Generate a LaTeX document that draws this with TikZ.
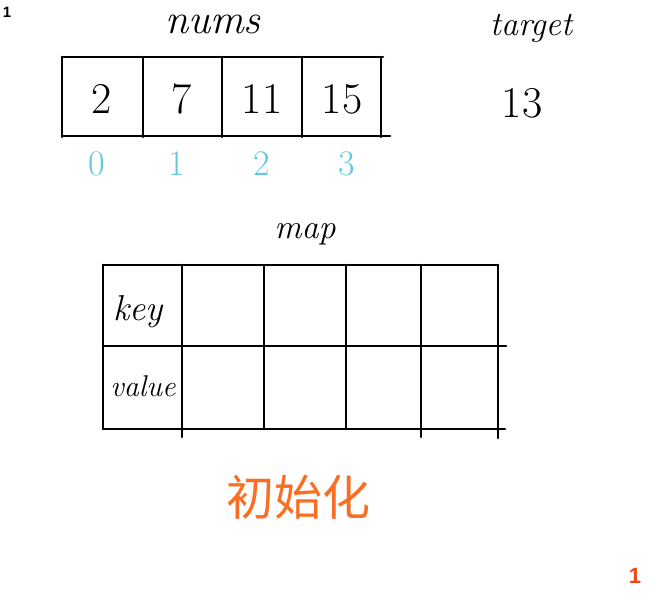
\documentclass[tikz,border=0pt]{standalone}
\usepackage{fontspec}
\newfontfamily\cjk{Noto Sans CJK SC}
\newfontfamily\sansb{Liberation Sans}
\definecolor{idxblue}{RGB}{95,200,225}
\definecolor{initorange}{RGB}{250,110,35}
\definecolor{pagered}{RGB}{240,70,20}
\tikzset{
  grid/.style={line width=2.6pt, black, line cap=round},
  word/.style={inner sep=0pt, font=\fontsize{34}{34}\selectfont\itshape},
  digit/.style={inner sep=0pt, font=\fontsize{44}{44}\selectfont},
  idx/.style={inner sep=0pt, text=idxblue, font=\fontsize{36}{36}\selectfont},
}
\begin{document}
\begin{tikzpicture}[x=1pt,y=-1pt]
\useasboundingbox (0,0) rectangle (650,600);
% top-left page mark
\node[inner sep=0pt, font=\sansb\bfseries\fontsize{15}{15}\selectfont] (pg) at (7,12) {1};
% nums array
\node[word, font=\fontsize{42}{42}\selectfont\itshape] (nums) at (213,24) {nums};
\draw[grid] (62,57) -- (383,57);
\draw[grid] (62,136) -- (390,136);
\foreach \x in {62,143,222,302,381} \draw[grid] (\x,57) -- (\x,137);
\node[digit] (v0) at (102,99) {2};
\node[digit] (v1) at (182,99) {7};
\node[digit] (v2) at (262,99) {11};
\node[digit] (v3) at (342,99) {15};
\node[idx] (i0) at (97,164) {0};
\node[idx] (i1) at (177,164) {1};
\node[idx] (i2) at (262,164) {2};
\node[idx] (i3) at (347,164) {3};
% target
\node[word] (target) at (531,28) {target};
\node[digit] (tv) at (522,103) {13};
% map table
\node[word] (map) at (305,234) {map};
\draw[grid] (103,265) -- (498,265);
\draw[grid] (103,346) -- (506,346);
\draw[grid] (103,429) -- (505,429);
\draw[grid] (103,265) -- (103,429);
\draw[grid] (182,265) -- (182,437);
\draw[grid] (264,265) -- (264,429);
\draw[grid] (346,265) -- (346,429);
\draw[grid] (421,265) -- (421,437);
\draw[grid] (498,265) -- (498,438);
\node[word, font=\fontsize{36}{36}\selectfont\itshape] (key) at (138,312) {key};
\node[word, font=\fontsize{30}{30}\selectfont\itshape] (val) at (143,386) {value};
% caption
\node[inner sep=0pt, text=initorange, font=\cjk\fontsize{48}{48}\selectfont] (init) at (298,497) {初始化};
% bottom-right page mark
\node[inner sep=0pt, text=pagered, font=\sansb\bfseries\fontsize{22}{22}\selectfont] (pg2) at (635,576) {1};
\end{tikzpicture}
\end{document}
